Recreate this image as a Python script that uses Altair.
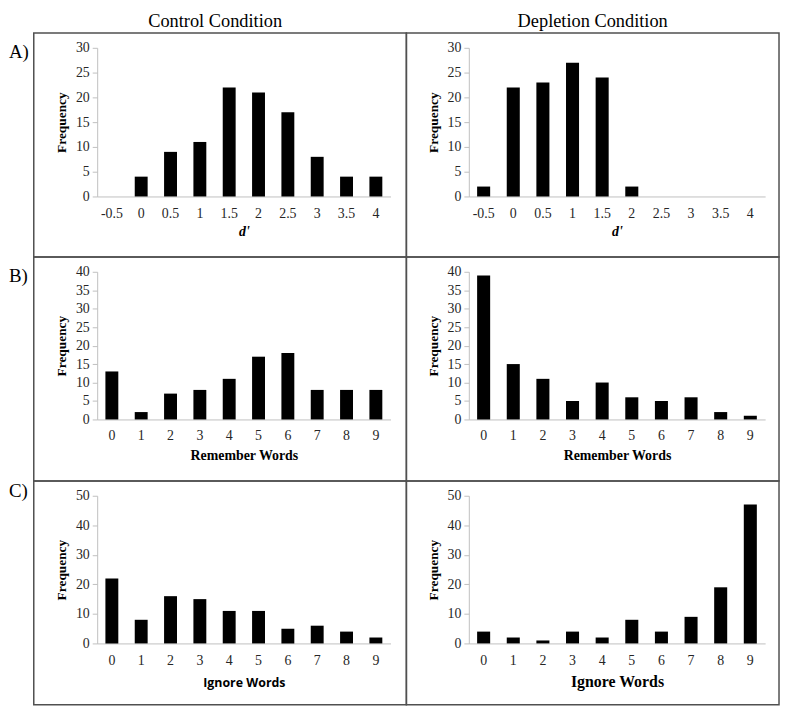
import altair as alt
import pandas as pd

# ---------------- data ----------------
DPRIME = ["-0.5", "0", "0.5", "1", "1.5", "2", "2.5", "3", "3.5", "4"]
WORDS = ["0", "1", "2", "3", "4", "5", "6", "7", "8", "9"]

A_CONTROL = [0, 4, 9, 11, 22, 21, 17, 8, 4, 4]
A_DEPLETION = [2, 22, 23, 27, 24, 2, 0, 0, 0, 0]
B_CONTROL = [13, 2, 7, 8, 11, 17, 18, 8, 8, 8]
B_DEPLETION = [39, 15, 11, 5, 10, 6, 5, 6, 2, 1]
C_CONTROL = [22, 8, 16, 15, 11, 11, 5, 6, 4, 2]
C_DEPLETION = [4, 2, 1, 4, 2, 8, 4, 9, 19, 47]

COLUMN_TITLES = ["Control Condition", "Depletion Condition"]
ROW_LABELS = ["A)", "B)", "C)"]

SERIF = "Liberation Serif"
SANS = "Open Sans"
GRAY = "#bfbfbf"
BOX_W, BOX_H = 376, 226


def panel(cats, vals, ymax, ystep, xtitle, xrange, yrange,
          xtitle_font=SERIF, xtitle_size=14, xtitle_style="normal",
          xlabel_pad=10, xtitle_pad=4, row_label=None, row_label_y=19,
          col_title=None, col_title_x=188):
    df = pd.DataFrame({"cat": cats, "val": vals})
    x_offset = -(BOX_H - yrange[0])
    bars = alt.Chart(df).mark_bar(color="black").encode(
        x=alt.X("cat:N", sort=cats,
                scale=alt.Scale(range=xrange, paddingInner=0.56, paddingOuter=0.28),
                axis=alt.Axis(title=xtitle, offset=x_offset, ticks=False,
                              domainColor=GRAY, domainWidth=1, labelAngle=0,
                              labelFont=SERIF, labelFontSize=14, labelColor="#262626",
                              labelPadding=xlabel_pad,
                              titleFont=xtitle_font, titleFontSize=xtitle_size,
                              titleFontWeight="bold", titleFontStyle=xtitle_style,
                              titleColor="black", titlePadding=xtitle_pad)),
        y=alt.Y("val:Q",
                scale=alt.Scale(domain=[0, ymax], range=yrange, nice=False, zero=True),
                axis=alt.Axis(title="Frequency", values=list(range(0, ymax + 1, ystep)),
                              offset=-xrange[0], grid=False, tickColor=GRAY, tickSize=5,
                              domainColor=GRAY, labelFont=SERIF, labelFontSize=14,
                              labelColor="#262626", labelPadding=3,
                              titleFont=SERIF, titleFontSize=13.5, titleFontWeight="bold",
                              titleColor="black", titlePadding=7)),
    )
    layers = [bars]
    if row_label is not None:
        layers.append(
            alt.Chart(pd.DataFrame({"t": [row_label]})).mark_text(
                font=SERIF, fontSize=19, align="left", baseline="middle", color="black"
            ).encode(text="t:N", x=alt.value(-25), y=alt.value(row_label_y))
        )
    if col_title is not None:
        layers.append(
            alt.Chart(pd.DataFrame({"t": [col_title]})).mark_text(
                font=SERIF, fontSize=18.5, align="center", baseline="middle", color="black"
            ).encode(text="t:N", x=alt.value(col_title_x), y=alt.value(-12))
        )
    return alt.layer(*layers).properties(width=BOX_W, height=BOX_H)


LX = [64, 360]
RX = [63, 362]

a_left = panel(DPRIME, A_CONTROL, 30, 5, "d'", LX, [165, 15], xtitle_style="italic",
               xlabel_pad=10, xtitle_pad=4, row_label=ROW_LABELS[0],
               col_title=COLUMN_TITLES[0], col_title_x=183)
a_right = panel(DPRIME, A_DEPLETION, 30, 5, "d'", RX, [165, 15], xtitle_style="italic",
                xlabel_pad=10, xtitle_pad=4, col_title=COLUMN_TITLES[1], col_title_x=188)
b_left = panel(WORDS, B_CONTROL, 40, 5, "Remember Words", LX, [164, 15],
               xlabel_pad=9, xtitle_pad=6, row_label=ROW_LABELS[1])
b_right = panel(WORDS, B_DEPLETION, 40, 5, "Remember Words", RX, [164, 15],
                xlabel_pad=9, xtitle_pad=6)
c_left = panel(WORDS, C_CONTROL, 50, 10, "Ignore Words", LX, [164, 15],
               xtitle_font=SANS, xtitle_size=12.5, xlabel_pad=10, xtitle_pad=9,
               row_label=ROW_LABELS[2], row_label_y=10)
c_right = panel(WORDS, C_DEPLETION, 50, 10, "Ignore Words", RX, [164, 15],
                xtitle_size=16, xlabel_pad=10, xtitle_pad=6)

chart = alt.concat(a_left, a_right, b_left, b_right, c_left, c_right,
                   columns=2, spacing=0, bounds="flush").properties(
    padding={"left": 0, "top": 0, "right": 0, "bottom": 0}
).resolve_scale(x="independent", y="independent").configure_view(
    stroke="#505050", strokeWidth=1.5)

chart.save("out.html", embed_options={"renderer": "svg", "actions": False})
